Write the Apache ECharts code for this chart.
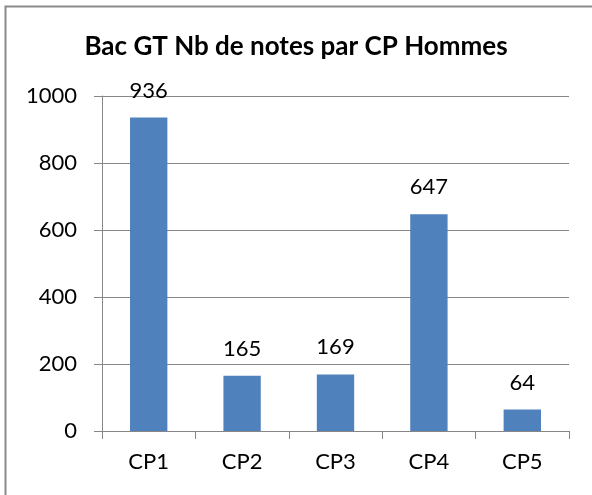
<!DOCTYPE html>
<html><head><meta charset="utf-8">
<script src="https://cdn.jsdelivr.net/npm/echarts@6/dist/echarts.min.js"></script>
<style>html,body{margin:0;padding:0;background:#fff}#c{width:592px;height:495px}</style>
</head><body><div id="c"></div>
<script>
const categories = ['CP1','CP2','CP3','CP4','CP5'];
const values = [936, 165, 169, 647, 64];
const yTicks = [0, 200, 400, 600, 800, 1000];
const titleText = 'Bac GT Nb de notes par CP Hommes';

const FONT = 'Lato, "Noto Sans", sans-serif';
const chart = echarts.init(document.getElementById('c'), null, {renderer:'canvas'});
chart.setOption({
  animation:false,
  backgroundColor:'#fff',
  graphic:[{type:'rect',shape:{x:5.5,y:6.5,width:700,height:600},style:{fill:'none',stroke:'#8a8a8a',lineWidth:2},silent:true}],
  title:{text:titleText,left:'center',top:34,itemGap:0,textStyle:{fontFamily:FONT,fontWeight:'bold',fontSize:26,color:'#000'},padding:0},
  grid:{left:102,right:23,top:96,bottom:64,containLabel:false},
  xAxis:{type:'category',data:categories,
    axisLine:{lineStyle:{color:'#868686',width:1}},
    axisTick:{show:true,length:8,lineStyle:{color:'#868686'}},
    axisLabel:{fontFamily:FONT,fontSize:22,color:'#000',margin:20}},
  yAxis:{type:'value',min:yTicks[0],max:yTicks[yTicks.length-1],interval:200,
    axisLine:{show:true,lineStyle:{color:'#868686',width:1}},
    axisTick:{show:true,length:8,lineStyle:{color:'#868686'}},
    splitLine:{lineStyle:{color:'#868686',width:1}},
    axisLabel:{fontFamily:FONT,fontSize:22,color:'#000',margin:25,formatter:v=>String(v)}},
  series:[{type:'bar',data:values,barWidth:'40%',itemStyle:{color:'#4F81BD'},
    label:{show:true,position:'top',distance:16,fontFamily:FONT,fontSize:22,color:'#000'}}]
});
</script></body></html>
